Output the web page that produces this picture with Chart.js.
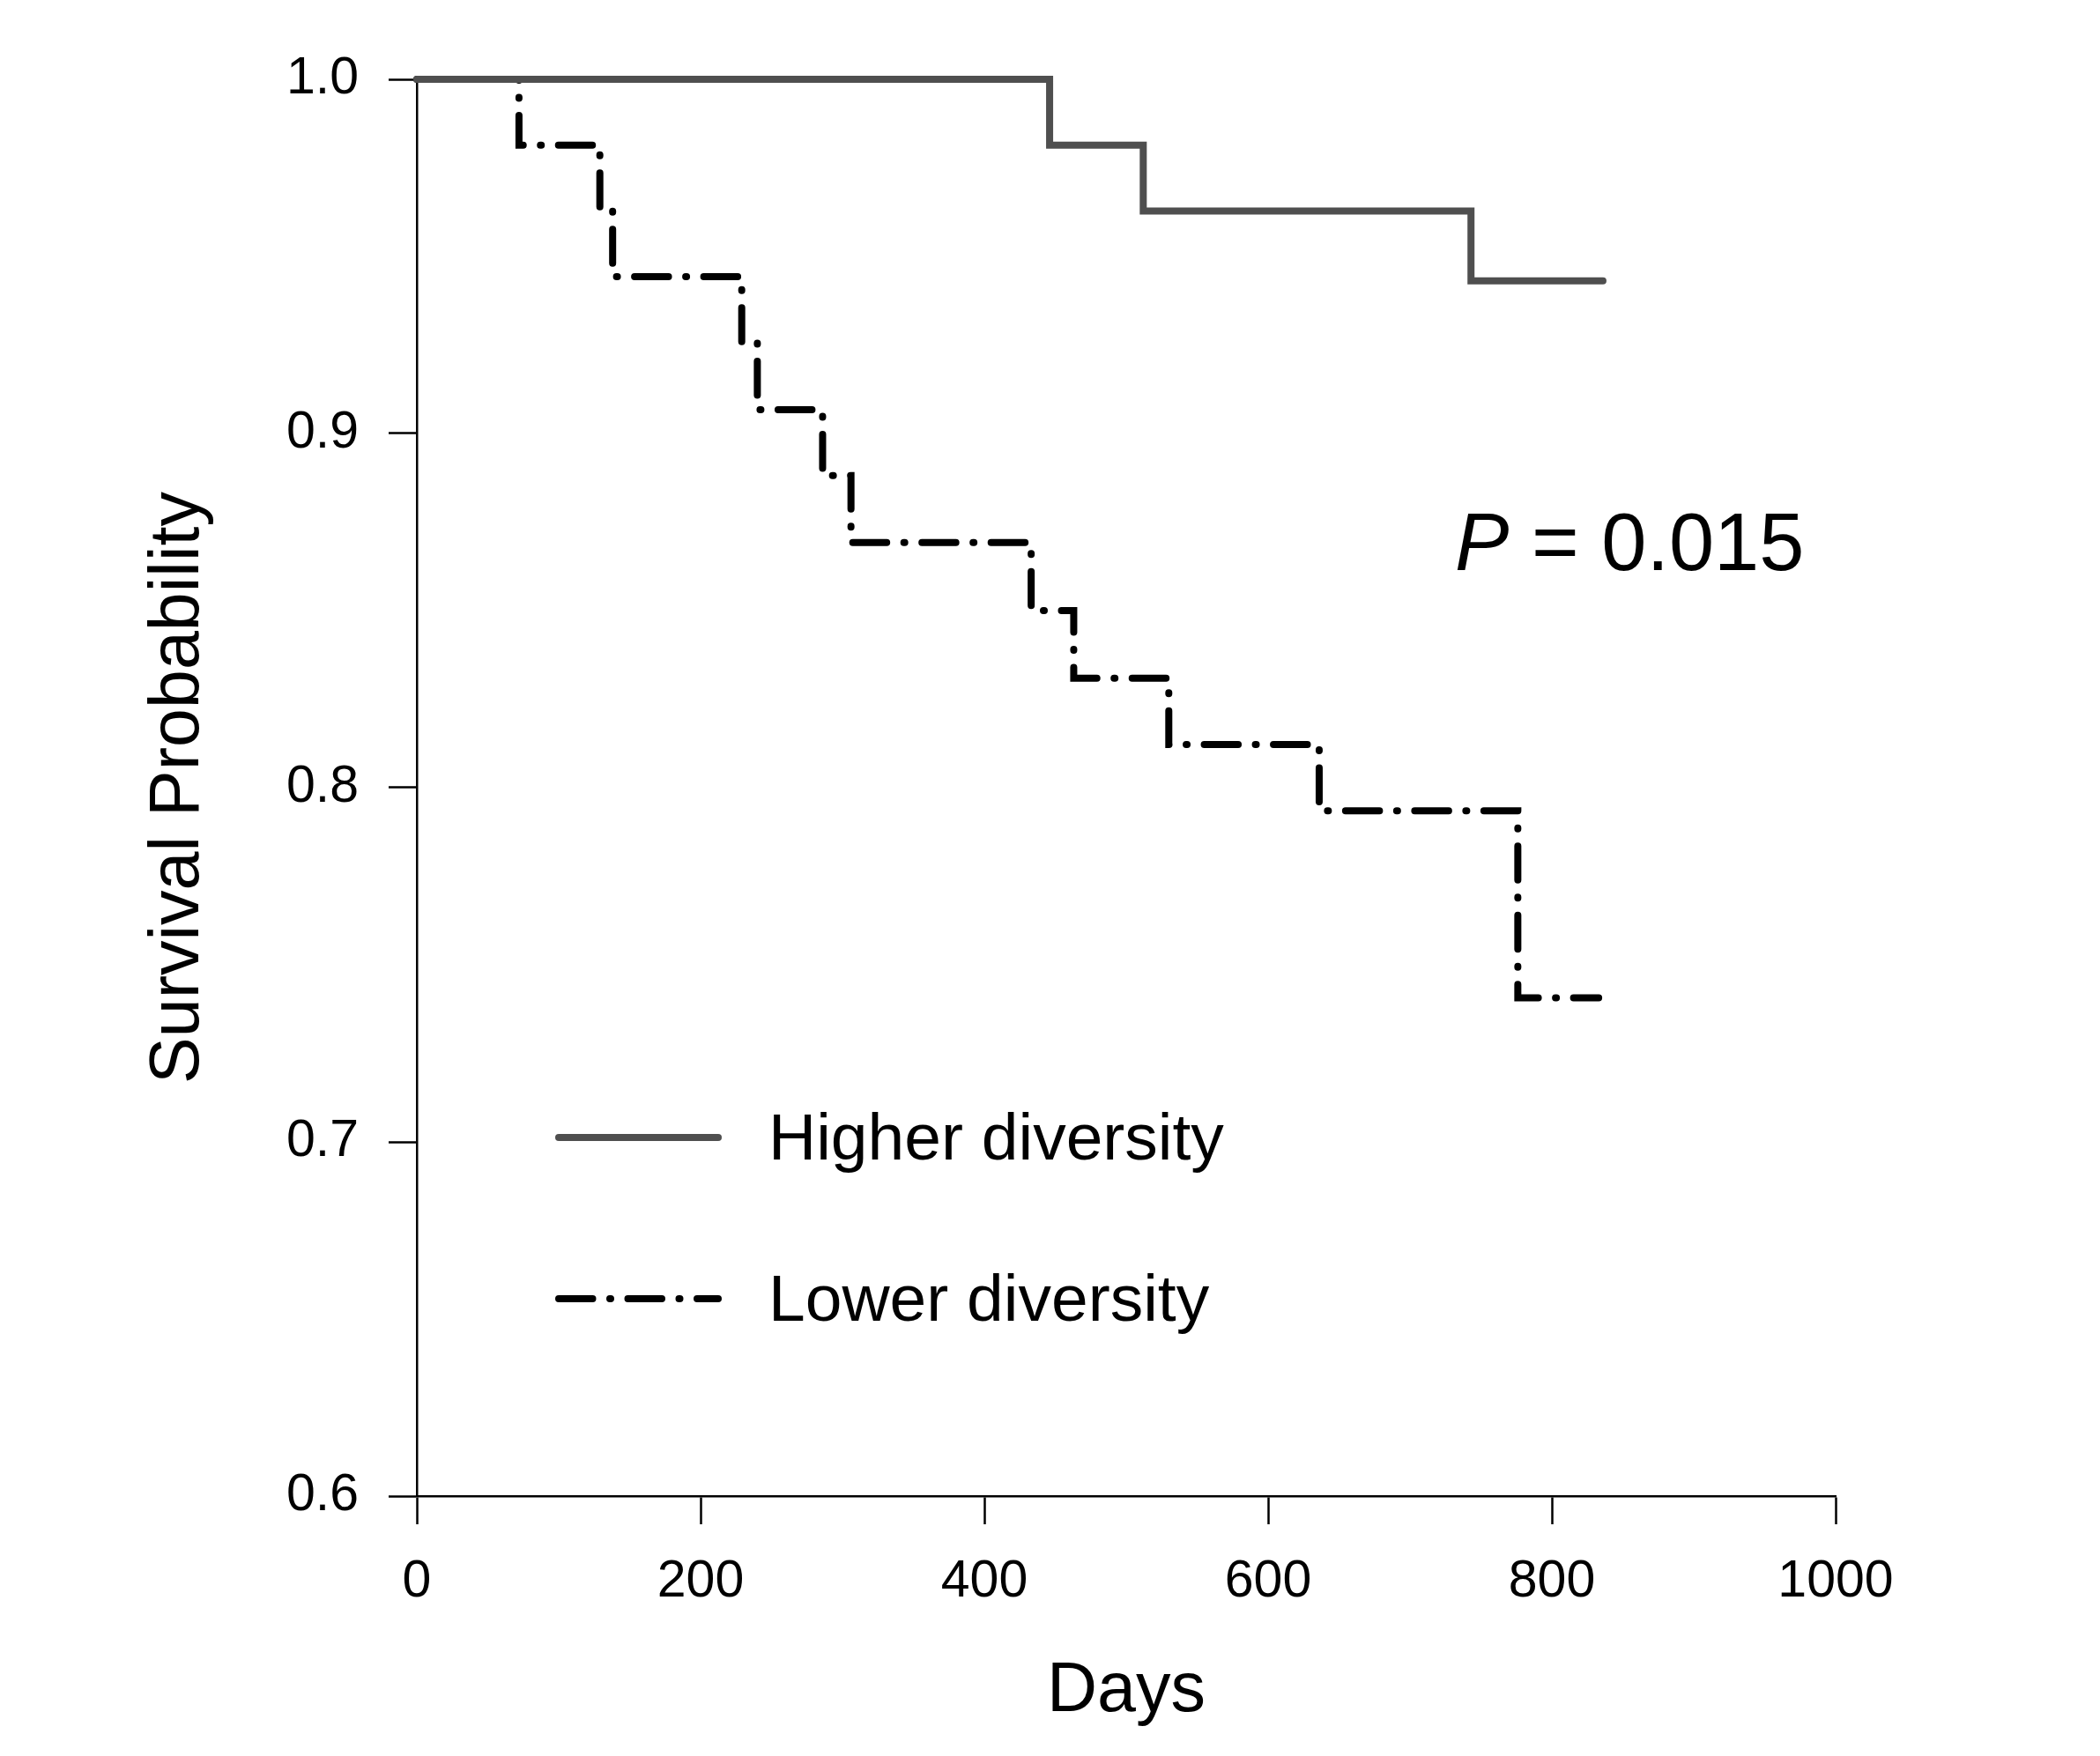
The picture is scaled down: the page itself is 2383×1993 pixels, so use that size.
<!DOCTYPE html>
<html>
<head>
<meta charset="utf-8">
<script src="https://cdn.jsdelivr.net/npm/chart.js@4.4.1/dist/chart.umd.min.js"></script>
<style>
  html, body { margin: 0; padding: 0; background: #fff; }
  canvas { display: block; }
</style>
</head>
<body>
<canvas id="survivalChart" width="2383" height="1993"></canvas>
<script>
// values
const higherDays = [0, 446, 512, 743, 836];
const higherSurvival = [1.0, 0.9814, 0.9628, 0.9431, 0.9431];
const lowerDays = [0, 72, 129, 138, 229, 240, 286, 306, 433, 463, 530, 636, 776, 833];
const lowerSurvival = [1.0, 0.9814, 0.9628, 0.9443, 0.9257, 0.9067, 0.8881, 0.8692, 0.8500, 0.8309, 0.8122, 0.7935, 0.7407, 0.7407];
const dayTicks = [0, 200, 400, 600, 800, 1000];
const probTicks = [0.6, 0.7, 0.8, 0.9, 1.0];
const seriesLabels = ['Higher diversity', 'Lower diversity'];
const pValue = '0.015';

const fontFamily = '"Liberation Sans", Arial, Helvetica, sans-serif';

function toPoints(xs, ys) {
  return xs.map((x, i) => ({ x: x, y: ys[i] }));
}

// legend rows and the P value, drawn inside the plot
const annotations = {
  id: 'annotations',
  afterDatasetsDraw(chart) {
    const ctx = chart.ctx;
    const rows = [1291, 1474];
    ctx.save();
    chart.data.datasets.forEach((ds, i) => {
      const y = rows[i];
      ctx.beginPath();
      ctx.strokeStyle = ds.borderColor;
      ctx.lineWidth = ds.borderWidth;
      ctx.lineCap = ds.borderCapStyle;
      ctx.setLineDash(ds.borderDash || []);
      ctx.moveTo(634, y);
      ctx.lineTo(815, y);
      ctx.stroke();
      ctx.setLineDash([]);
      ctx.fillStyle = '#000';
      ctx.font = '75px ' + fontFamily;
      ctx.textBaseline = 'alphabetic';
      ctx.textAlign = 'left';
      ctx.fillText(ds.label, 872, y + 25);
    });

    ctx.fillStyle = '#000';
    ctx.font = 'italic 92px ' + fontFamily;
    ctx.fillText('P', 1651, 647);
    const w = ctx.measureText('P').width;
    ctx.font = '92px ' + fontFamily;
    ctx.fillText(' = ' + pValue, 1651 + w, 647);
    ctx.restore();
  }
};

const ctx = document.getElementById('survivalChart').getContext('2d');
const chart = new Chart(ctx, {
  type: 'line',
  data: {
    datasets: [
      {
        label: seriesLabels[0],
        data: toPoints(higherDays, higherSurvival),
        borderColor: '#4f4f4f',
        borderWidth: 8,
        borderCapStyle: 'round',
        stepped: true,
        pointRadius: 0,
        fill: false,
        clip: false,
      },
      {
        label: seriesLabels[1],
        data: toPoints(lowerDays, lowerSurvival),
        borderColor: '#000000',
        borderWidth: 8,
        borderCapStyle: 'round',
        borderDash: [38.5, 19.5, 1, 19.5],
        stepped: true,
        pointRadius: 0,
        fill: false,
        clip: false,
      },
    ],
  },
  options: {
    responsive: false,
    animation: false,
    devicePixelRatio: 1,
    layout: {
      padding: { left: 0, top: 90, right: 300, bottom: 0 },
    },
    plugins: {
      legend: { display: false },
      tooltip: { enabled: false },
    },
    scales: {
      x: {
        type: 'linear',
        min: 0,
        max: 1000,
        afterBuildTicks: (scale) => {
          scale.ticks = dayTicks.map((v) => ({ value: v }));
        },
        afterFit: (scale) => {
          scale.height = 295;
        },
        ticks: {
          color: '#000',
          padding: 30,
          maxRotation: 0,
          font: { family: fontFamily, size: 59 },
          callback: (v) => String(v),
        },
        grid: {
          drawOnChartArea: false,
          tickLength: 32,
          tickWidth: 2.5,
          tickColor: '#000',
        },
        border: { display: true, color: '#000', width: 2.5 },
        title: {
          display: true,
          text: 'Days',
          color: '#000',
          font: { family: fontFamily, size: 79 },
          padding: { top: 0, bottom: 25 },
        },
      },
      y: {
        type: 'linear',
        min: 0.6,
        max: 1.0,
        afterBuildTicks: (scale) => {
          scale.ticks = probTicks.map((v) => ({ value: v }));
        },
        afterFit: (scale) => {
          scale.width = 473;
        },
        ticks: {
          color: '#000',
          padding: 34,
          font: { family: fontFamily, size: 59 },
          callback: (v) => Number(v).toFixed(1),
        },
        grid: {
          drawOnChartArea: false,
          tickLength: 32,
          tickWidth: 2.5,
          tickColor: '#000',
        },
        border: { display: true, color: '#000', width: 2.5 },
        title: {
          display: true,
          text: 'Survival Probability',
          color: '#000',
          font: { family: fontFamily, size: 79 },
          padding: { top: 156, bottom: 0 },
        },
      },
    },
  },
  plugins: [annotations],
});
</script>
</body>
</html>
